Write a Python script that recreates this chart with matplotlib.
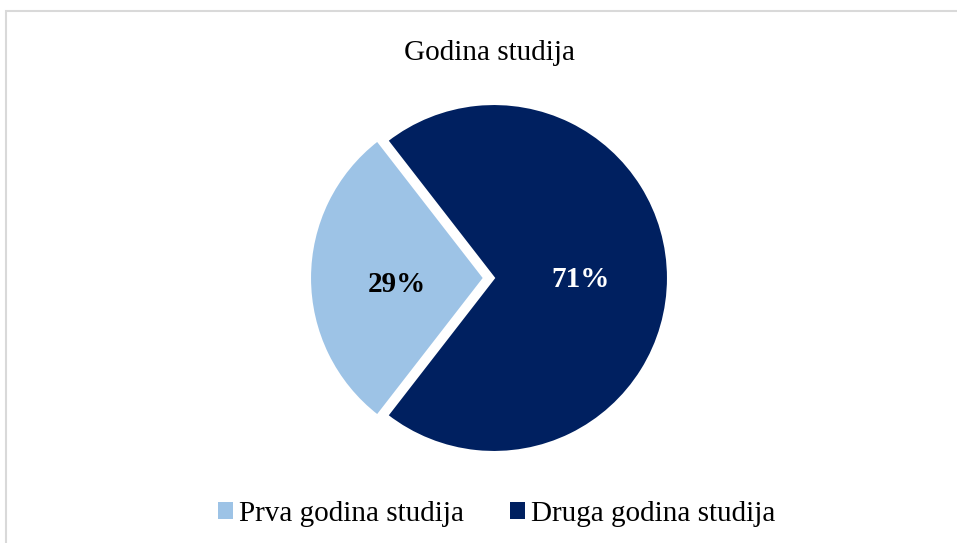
import matplotlib.pyplot as plt
from matplotlib.patches import Patch, Rectangle

# data
categories = ["Prva godina studija", "Druga godina studija"]
shares = [29, 71]
colors = ["#9DC3E6", "#002060"]
title = "Godina studija"

plt.rcParams['font.family'] = ['Liberation Serif', 'DejaVu Serif']

fig = plt.figure(figsize=(9.57, 5.43), dpi=100)
ax = fig.add_axes([0, 0, 1, 1])

# chart area border
fig.patches.append(Rectangle((5.5 / 957, -0.1), 1.2, 1.1 - 11.5 / 543,
                             transform=fig.transFigure, fill=False,
                             edgecolor="#D9D9D9", linewidth=1.5))

wedges, texts, autotexts = ax.pie(shares, colors=colors, startangle=127.8,
                                  center=(494, 265), radius=174,
                                  explode=[10, 0], autopct='%d%%',
                                  pctdistance=0.5, frame=True,
                                  wedgeprops=dict(edgecolor='white', linewidth=1.5),
                                  textprops=dict(fontsize=21, fontweight='bold'))
ax.set_xlim(0, 957)
ax.set_ylim(0, 543)
ax.axis('off')
autotexts[0].set_color('black')
autotexts[1].set_color('white')
# small nudge down, like the reference labels
for t, dy in zip(autotexts, [6, 2]):
    x, y = t.get_position()
    t.set_position((x, y - dy))

ax.text(490, 543 - 53, title, ha='center', va='center', fontsize=21)

handles = [Patch(facecolor=c, edgecolor='none') for c in colors]
fig.legend(handles, categories, loc='center', bbox_to_anchor=(0.519, 1 - 514 / 543),
           ncol=2, frameon=False, fontsize=21, handlelength=0.5, handleheight=0.5,
           handletextpad=0.2, columnspacing=1.6)

fig.savefig("out.png", dpi=100)
